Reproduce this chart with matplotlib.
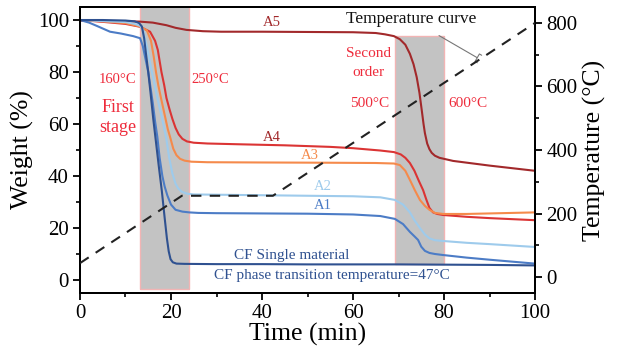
import matplotlib
matplotlib.use("Agg")
import matplotlib.pyplot as plt
from matplotlib.patches import Rectangle
from matplotlib.ticker import MultipleLocator

plt.rcParams['font.family'] = ['Liberation Serif', 'DejaVu Serif']
plt.rcParams['mathtext.fontset'] = 'stix'

# ---------------- data ----------------
a5_t = [0, 5, 10, 13, 16, 19, 21, 23.4, 27, 31, 40, 50, 60, 65, 67, 69, 70.3, 71.5, 72.5, 73.3, 74, 74.6, 75.1, 75.5, 75.8, 76.3, 76.8, 77.3, 78, 79, 82, 90, 100]
a5_w = [99.7, 99.6, 99.5, 99.4, 99.0, 98.0, 97, 96.2, 95.7, 95.5, 95.5, 95.4, 95.3, 95.0, 94.5, 93.8, 92.6, 90.5, 87, 83, 78, 72, 65.4, 60, 56.5, 52.5, 50.3, 48.9, 47.8, 47, 45.8, 44, 42]

a4_t = [0, 5, 10, 13.2, 15.4, 16.5, 17.1, 17.9, 18.5, 19.0, 19.7, 20.3, 21.0, 21.7, 22.5, 23.5, 25, 28, 35, 45, 55, 60, 66, 69, 70.5, 71.5, 72.5, 73.5, 74.5, 75.4, 76.1, 76.8, 77.6, 78.5, 79.8, 85, 90, 100]
a4_w = [100, 99.3, 98.5, 97.4, 95.5, 92, 88.5, 80, 75, 70, 65.5, 62, 58.5, 56, 54.3, 53.3, 52.8, 52.5, 52.2, 51.8, 51.2, 50.7, 49.8, 49.2, 48.3, 47, 45, 42, 38, 34.6, 31, 27.7, 26, 25.4, 25, 24.3, 23.8, 23]

a3_t = [0, 5, 10, 13.2, 14.7, 15.6, 16.2, 16.7, 17.2, 17.8, 18.3, 18.8, 19.3, 19.8, 20.5, 21.2, 22.0, 23.0, 24.5, 28, 40, 55, 65, 69, 70.3, 71.5, 72.5, 73.6, 74.7, 75.8, 76.8, 78, 79.8, 85, 90, 100]
a3_w = [100, 99.5, 98.8, 97.5, 96, 92, 86, 80, 75, 70, 66, 62, 58, 55, 50.5, 48, 46.6, 45.9, 45.5, 45.3, 45.2, 45.1, 45, 44.8, 44.2, 42, 38.5, 34.5, 30.8, 28.5, 27, 25.8, 25.4, 25.4, 25.6, 26]

a2_t = [0, 5, 10, 12, 13.2, 13.9, 14.8, 15.8, 17.0, 18.3, 19.0, 19.6, 20.3, 21.0, 21.6, 22.3, 23.5, 25, 30, 40, 50, 60, 66, 69.2, 71, 72.5, 73.5, 74.7, 75.8, 76.8, 78, 79.8, 85, 90, 100]
a2_w = [100, 99.6, 99.2, 98.5, 97.8, 96, 89, 80, 70, 60, 54, 47, 41, 37, 35.2, 34, 33.2, 32.9, 32.8, 32.6, 32.4, 32.2, 31.8, 30.8, 29, 26, 23, 20, 17.5, 16, 15.3, 15, 14.3, 13.8, 12.7]

a1_t = [0, 2, 4, 6.6, 9, 11.7, 13.2, 13.8, 14.4, 15.0, 15.5, 16.0, 16.5, 17.0, 17.5, 18.1, 18.6, 19.2, 20.0, 21.0, 22.5, 24, 26, 30, 40, 50, 60, 66, 69.2, 71, 72.5, 73.5, 74.3, 75, 75.8, 76.8, 78, 79.8, 85, 90, 100]
a1_w = [100, 99, 97.5, 95.5, 94.8, 93.8, 93, 90, 85, 80, 74, 68, 61, 55, 47, 40, 36, 32.5, 29, 27, 26.3, 26, 25.8, 25.7, 25.6, 25.5, 25.2, 24.6, 23.5, 21.5, 18.5, 16.8, 15.4, 12.8, 11.2, 10.4, 10, 9.6, 8.6, 7.8, 6.3]

cf_t = [0, 5, 10, 12, 13, 13.6, 14.1, 14.5, 15, 15.5, 16.1, 16.7, 17.3, 18, 18.6, 19.1, 19.5, 19.9, 20.4, 21.2, 23, 30, 40, 50, 60, 70, 80, 90, 100]
cf_w = [100, 100, 99.8, 99.5, 98.8, 97.5, 93, 87, 80, 72, 62, 53, 44, 34, 24, 16, 11, 8, 6.8, 6.3, 6.2, 6.1, 6.1, 6.0, 6.0, 6.0, 5.9, 5.8, 5.6]

temp_t = [0, 22.4, 42.4, 100]
temp_c = [44, 256, 256, 800]

stage1 = (13.2, 24.0)   # time range of first stage (min)
stage2 = (69.2, 80.0)   # time range of second stage (min)

# ---------------- figure ----------------
fig = plt.figure(figsize=(6.24, 3.58), dpi=100)
ax = fig.add_axes([0.1282, 0.1816, 0.7292, 0.7988])
ax2 = ax.twinx()

ax.set_xlim(0, 100)
ax.set_ylim(-5, 105)
ax2.set_ylim(-50, 850)

gray = '#c3c3c3'
edge = '#f2b4b4'
ax.add_patch(Rectangle((stage1[0], -3.5), stage1[1] - stage1[0], 110,
                       facecolor=gray, edgecolor=edge, lw=1.0, zorder=1))
ax.add_patch(Rectangle((stage2[0], 6.2), stage2[1] - stage2[0], 93.8 - 6.2,
                       facecolor=gray, edgecolor=edge, lw=1.0, zorder=1))

lw = 1.5
c_a5 = '#a2292b'
c_a4 = '#db3434'
c_a3 = '#f58a4b'
c_a2 = '#9ecbec'
c_a1 = '#4c7cc6'
c_cf = '#2f5190'
ax.plot(a5_t, a5_w, color=c_a5, lw=lw, zorder=3)
ax.plot(a4_t, a4_w, color=c_a4, lw=lw, zorder=3)
ax.plot(a3_t, a3_w, color=c_a3, lw=lw, zorder=3)
ax.plot(a2_t, a2_w, color=c_a2, lw=lw, zorder=3)
ax.plot(a1_t, a1_w, color=c_a1, lw=lw, zorder=3)
ax.plot(cf_t, cf_w, color=c_cf, lw=lw, zorder=3)

ax2.plot(temp_t, temp_c, color='#222222', lw=1.5, dashes=(5, 4), zorder=4)

# ---------------- axes styling ----------------
for a in (ax, ax2):
    for s in a.spines.values():
        s.set_linewidth(1.4)
ax.xaxis.set_major_locator(MultipleLocator(20))
ax.xaxis.set_minor_locator(MultipleLocator(10))
ax.yaxis.set_major_locator(MultipleLocator(20))
ax.yaxis.set_minor_locator(MultipleLocator(10))
ax2.yaxis.set_major_locator(MultipleLocator(200))
ax2.yaxis.set_minor_locator(MultipleLocator(100))
for a in (ax, ax2):
    a.tick_params(which='major', direction='out', length=5, width=1.3, labelsize=15, pad=3)
    a.tick_params(which='minor', direction='out', length=3, width=1.2)
ax.tick_params(axis='y', which='both', right=False)
ax.tick_params(axis='x', which='both', top=False)

ax.set_xlabel('Time (min)', fontsize=18.5, labelpad=0)
ax.set_ylabel('Weight (%)', fontsize=18.5, labelpad=3)
ax2.set_ylabel('Temperature (°C)', fontsize=18.5, labelpad=4)

# ---------------- annotations ----------------
red = '#ee2c3c'
ax.text(8.3, 77, '160°C', color=red, fontsize=10.5, ha='center', va='center', zorder=5)
ax.text(8.3, 66.5, 'First', color=red, fontsize=13, ha='center', va='center', zorder=5)
ax.text(8.3, 58.5, 'stage', color=red, fontsize=13, ha='center', va='center', zorder=5)
ax.text(28.6, 77, '250°C', color=red, fontsize=10.5, ha='center', va='center', zorder=5)
ax.text(63.3, 87, 'Second', color=red, fontsize=11, ha='center', va='center', zorder=5)
ax.text(63.3, 80, 'order', color=red, fontsize=11, ha='center', va='center', zorder=5)
ax.text(63.7, 68, '500°C', color=red, fontsize=11, ha='center', va='center', zorder=5)
ax.text(85.3, 68, '600°C', color=red, fontsize=11, ha='center', va='center', zorder=5)

ax.text(42.2, 99, 'A5', color=c_a5, fontsize=10.5, ha='center', va='center', zorder=5)
ax.text(42.2, 55, 'A4', color=c_a5, fontsize=10.5, ha='center', va='center', zorder=5)
ax.text(50.5, 47.8, 'A3', color=c_a3, fontsize=10.5, ha='center', va='center', zorder=5)
ax.text(53.4, 35.8, 'A2', color=c_a2, fontsize=10.5, ha='center', va='center', zorder=5)
ax.text(53.4, 28.8, 'A1', color=c_a1, fontsize=10.5, ha='center', va='center', zorder=5)
ax.text(46.6, 9.3, 'CF Single material', color=c_cf, fontsize=11, ha='center', va='center', zorder=5)
ax.text(55.4, 1.6, 'CF phase transition temperature=47°C', color=c_cf, fontsize=11,
        ha='center', va='center', zorder=5)

ax.annotate('Temperature curve', xy=(87.3, 85.5), xytext=(72.7, 100.3),
            fontsize=12.5, ha='center', va='center', color='#111111', zorder=6,
            arrowprops=dict(arrowstyle='-[, widthB=0.25, lengthB=0.15', color='#777777', lw=0.8,
                            shrinkA=8, shrinkB=0))

fig.savefig('out.png', dpi=100)
